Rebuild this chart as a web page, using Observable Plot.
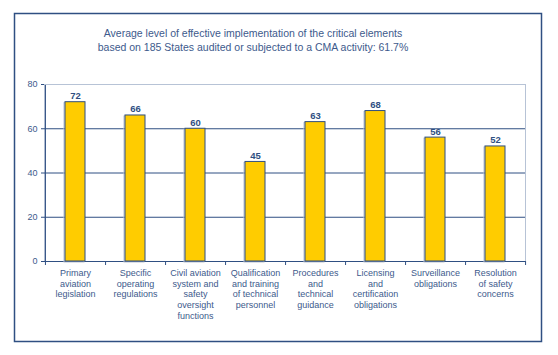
<!DOCTYPE html>
<html><head><meta charset="utf-8">
<script src="https://cdn.jsdelivr.net/npm/d3@7"></script>
<script src="https://cdn.jsdelivr.net/npm/@observablehq/plot@0.6"></script>
<style>body{margin:0;background:#fff} svg{display:block}</style>
</head><body><div id="chart"></div>
<script>
const categories = [
  "Primary\naviation\nlegislation",
  "Specific\noperating\nregulations",
  "Civil aviation\nsystem and\nsafety\noversight\nfunctions",
  "Qualification\nand training\nof technical\npersonnel",
  "Procedures\nand\ntechnical\nguidance",
  "Licensing\nand\ncertification\nobligations",
  "Surveillance\nobligations",
  "Resolution\nof safety\nconcerns"
];
const values = [72, 66, 60, 45, 63, 68, 56, 52];
const yTicks = [0, 20, 40, 60, 80];
const titleLines = [
  "Average level of effective implementation of the critical elements",
  "based on 185 States audited or subjected to a CMA activity: 61.7%"
];
const data = categories.map((c, i) => ({category: c, value: values[i]}));

const W = 558, H = 355, ml = 44, mr = 33, mt = 84, mb = 94;
const step = (W - ml - mr) / categories.length;
const ink = "#2f4f82", txt = "#3d5a8c", light = "#b7c3d6";

const plot = Plot.plot({
  width: W, height: H,
  marginLeft: ml, marginRight: mr, marginTop: mt, marginBottom: mb,
  style: {fontFamily: "'Liberation Sans', Arial, sans-serif", fontSize: "9px", color: txt, background: "white"},
  x: {domain: categories, paddingInner: 0.667, paddingOuter: 0.3335, label: null},
  y: {domain: [0, 80], ticks: yTicks, label: null},
  marks: [
    Plot.frame({stroke: light}),
    Plot.gridY(yTicks.filter(t => t > 0 && t < 80), {stroke: ink, strokeOpacity: 1}),
    Plot.ruleY([0], {stroke: ink}),
    Plot.ruleX([categories[0]], {dx: -step / 2, y1: 0, y2: 80, insetBottom: -1, stroke: ink}),
    Plot.ruleX(categories, {x: d => d, dx: step / 2, y1: 0, y2: 0, insetBottom: -4, stroke: ink}),
    Plot.ruleX([categories[0]], {x: d => d, dx: -step / 2, y1: 0, y2: 0, insetBottom: -4, stroke: ink}),
    Plot.axisY({ticks: yTicks, tickSize: 3, tickPadding: 4, stroke: ink, fill: txt, fontSize: 9}),
    Plot.axisX({tickSize: 0, tickPadding: 7, lineHeight: 1.18, fontSize: 9, fill: txt}),
    Plot.barY(data, {x: "category", y: "value", fill: "none", stroke: "#b9c0cc", strokeWidth: 1, dx: -1, dy: 1}),
    Plot.barY(data, {x: "category", y: "value", fill: "#ffcc00", stroke: ink, strokeWidth: 1}),
    Plot.text(data, {x: "category", y: "value", text: d => String(d.value), dy: -3, lineAnchor: "bottom", fontWeight: "bold", fontSize: 9.5, fill: ink}),
    Plot.text([titleLines.join("\n")], {text: d => d, frameAnchor: "top", dx: -32, dy: -58, lineAnchor: "top", lineHeight: 1.38, fontSize: 10.5, fill: txt})
  ]
});

d3.select(plot).append("rect")
  .attr("x", 14.5).attr("y", 13.5).attr("width", 527).attr("height", 328)
  .attr("fill", "none").attr("stroke", ink).attr("stroke-width", 1.5);

document.getElementById("chart").append(plot);
</script>
</body></html>
